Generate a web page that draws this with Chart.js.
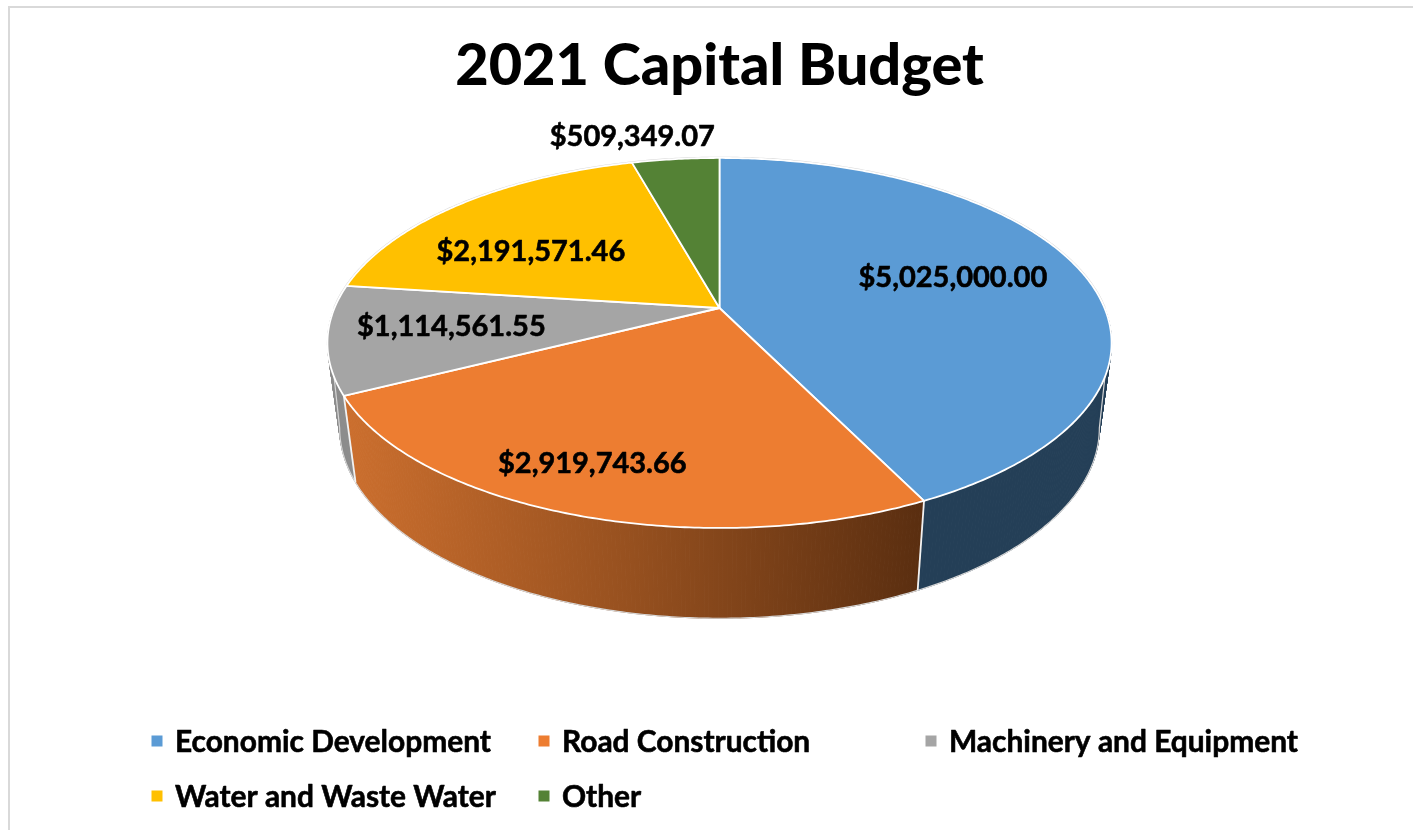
<!DOCTYPE html>
<html>
<head>
<meta charset="utf-8">
<title>2021 Capital Budget</title>
<script src="https://cdn.jsdelivr.net/npm/chart.js@4"></script>
<style>
    html, body { margin: 0; padding: 0; background: #fff; overflow: hidden; }
    #wrap { width: 1413px; height: 830px; position: relative; }
</style>
</head>
<body>
<div id="wrap"><canvas id="budgetChart"></canvas></div>
<script>
const chartTitle = '2021 Capital Budget';
const categories = ['Economic Development', 'Road Construction', 'Machinery and Equipment', 'Water and Waste Water', 'Other'];
const budget = [5025000.00, 2919743.66, 1114561.55, 2191571.46, 509349.07];
const colors = ['#5B9BD5', '#ED7D31', '#A5A5A5', '#FFC000', '#548235'];
const wallColors = ['#243F57', null, '#8C8C8C', '#A67D00', '#36551F'];

const FONT = 'Lato, Carlito, "Open Sans", sans-serif';

// Perspective of the tilted disc: top face and bottom face of the pie
const topFace = { cy: 308, a: 178.4, b: 385, p: -0.189 };
const bottomFace = { cy: 392, a: 183.5, b: 373, p: -0.189 };

function project(face, cx, angle, r) {
    const u = Math.cos(angle) * r;
    const v = Math.sin(angle) * r;
    const d = 1 + face.p * v;
    return { x: cx + face.b * u / d, y: face.cy + face.a * v / d };
}

function arcPoints(face, cx, start, end) {
    const pts = [];
    const steps = Math.max(4, Math.ceil((end - start) / 0.01));
    for (let i = 0; i <= steps; i++) {
        pts.push(project(face, cx, start + (end - start) * i / steps, 1));
    }
    return pts;
}

function tracePath(ctx, pts, keepGoing) {
    pts.forEach((pt, i) => (i || keepGoing) ? ctx.lineTo(pt.x, pt.y) : ctx.moveTo(pt.x, pt.y));
}

// Pie slices come from Chart.js arc elements, only the drawing is projected
const tiltedPie = {
    id: 'tiltedPie',
    beforeDraw(chart) {
        const ctx = chart.ctx;
        ctx.save();
        ctx.fillStyle = '#D9D9D9';
        ctx.fillRect(8, 6, 2, chart.height - 6);
        ctx.fillRect(8, 6, chart.width - 8, 2);
        ctx.restore();
    },
    beforeDatasetDraw(chart) {
        const ctx = chart.ctx;
        const arcs = chart.getDatasetMeta(0).data;
        const cx = arcs[0].x;
        ctx.save();

        // side wall
        arcs.forEach((arc, i) => {
            const upper = arcPoints(topFace, cx, arc.startAngle, arc.endAngle);
            const lower = arcPoints(bottomFace, cx, arc.startAngle, arc.endAngle);
            let fill = wallColors[i];
            if (!fill) {
                fill = ctx.createLinearGradient(344, 0, 922, 0);
                fill.addColorStop(0, '#CC6F2E');
                fill.addColorStop(0.5, '#96501F');
                fill.addColorStop(1, '#5A2E10');
            }
            // walls as quads so the silhouette follows both faces
            ctx.fillStyle = fill;
            ctx.strokeStyle = fill;
            ctx.lineWidth = 1;
            for (let k = 0; k < upper.length - 1; k++) {
                ctx.beginPath();
                tracePath(ctx, [upper[k], upper[k + 1], lower[k + 1], lower[k]]);
                ctx.closePath();
                ctx.fill();
                ctx.stroke();
            }
        });

        // light rim around the silhouette of the wall
        const rimBottom = arcPoints(bottomFace, cx, 0.19, Math.PI - 0.19);
        ctx.beginPath();
        ctx.moveTo(project(topFace, cx, 0.1, 1).x + 0.5, project(topFace, cx, 0.1, 1).y);
        tracePath(ctx, rimBottom, true);
        ctx.lineTo(project(topFace, cx, Math.PI - 0.1, 1).x - 0.5, project(topFace, cx, Math.PI - 0.1, 1).y);
        ctx.strokeStyle = '#D6D6D6';
        ctx.lineWidth = 1.2;
        ctx.stroke();

        // white seams between wall parts
        arcs.forEach(arc => {
            const a = project(topFace, cx, arc.startAngle, 1);
            const b = project(bottomFace, cx, arc.startAngle, 1);
            if (Math.sin(arc.startAngle) > 0.2) {
                ctx.beginPath();
                ctx.moveTo(a.x, a.y);
                ctx.lineTo(b.x, b.y);
                ctx.strokeStyle = '#F2F2F2';
                ctx.lineWidth = 1.8;
                ctx.stroke();
            }
        });

        // soft grey edge around the disc, under the white slice borders
        ctx.beginPath();
        tracePath(ctx, arcPoints(topFace, cx, Math.PI, Math.PI * 2));
        ctx.strokeStyle = '#D6D6D6';
        ctx.lineWidth = 2.6;
        ctx.stroke();

        // top face
        arcs.forEach((arc, i) => {
            const apex = project(topFace, cx, 0, 0);
            ctx.beginPath();
            ctx.moveTo(apex.x, apex.y);
            tracePath(ctx, arcPoints(topFace, cx, arc.startAngle, arc.endAngle), true);
            ctx.closePath();
            ctx.fillStyle = colors[i];
            ctx.fill();
            ctx.strokeStyle = '#FFFFFF';
            ctx.lineWidth = 1.8;
            ctx.lineJoin = 'round';
            ctx.stroke();
        });

        ctx.restore();
        return false;
    },
    afterDatasetsDraw(chart, args, opts) {
        const ctx = chart.ctx;
        const arcs = chart.getDatasetMeta(0).data;
        const cx = arcs[0].x;
        ctx.save();
        ctx.font = 'bold ' + opts.labelSize + 'px ' + FONT;
        ctx.fillStyle = '#000';
        ctx.strokeStyle = '#000';
        ctx.lineWidth = opts.heavier;
        ctx.lineJoin = 'round';
        ctx.textAlign = 'center';
        ctx.textBaseline = 'middle';
        arcs.forEach((arc, i) => {
            const mid = (arc.startAngle + arc.endAngle) / 2;
            const pt = project(topFace, cx, mid, 0.6);
            const nudge = opts.labelNudge[i];
            const text = '$' + budget[i].toLocaleString('en-US', { minimumFractionDigits: 2, maximumFractionDigits: 2 });
            ctx.fillText(text, pt.x + nudge[0], pt.y + nudge[1]);
            ctx.strokeText(text, pt.x + nudge[0], pt.y + nudge[1]);
        });

        // legend on a 3 column grid
        ctx.textAlign = 'left';
        ctx.font = 'bold ' + opts.legendSize + 'px ' + FONT;
        categories.forEach((name, i) => {
            const col = i % 3;
            const row = Math.floor(i / 3);
            const x = opts.legendX + col * opts.legendColumn;
            const y = opts.legendY + row * opts.legendRow;
            ctx.fillStyle = colors[i];
            ctx.fillRect(x - 0.5, y - 5.5, 11, 11);
            ctx.fillStyle = '#000';
            ctx.fillText(name, x + 23, y + 1);
            ctx.strokeText(name, x + 23, y + 1);
        });
        ctx.restore();
    }
};

function initChart() {
    const ctx = document.getElementById('budgetChart').getContext('2d');
    new Chart(ctx, {
        type: 'pie',
        data: {
            labels: categories,
            datasets: [{
                data: budget,
                backgroundColor: colors,
                borderColor: '#fff'
            }]
        },
        options: {
            responsive: true,
            maintainAspectRatio: false,
            animation: false,
            layout: { padding: { left: 26 } },
            plugins: {
                legend: { display: false },
                tooltip: { enabled: false },
                title: {
                    display: true,
                    text: chartTitle,
                    color: '#000',
                    font: { family: FONT, size: 57.7, weight: '900' },
                    padding: { top: 32, bottom: 20 }
                },
                tiltedPie: {
                    labelSize: 29,
                    heavier: 0.6,
                    labelNudge: [[14, -7], [-45, 42], [-36, 0], [-26, 9], [-59, -76]],
                    legendSize: 29.9,
                    legendX: 152,
                    legendY: 741,
                    legendColumn: 387,
                    legendRow: 55
                }
            }
        },
        plugins: [tiltedPie]
    });
}

initChart();
</script>
</body>
</html>
